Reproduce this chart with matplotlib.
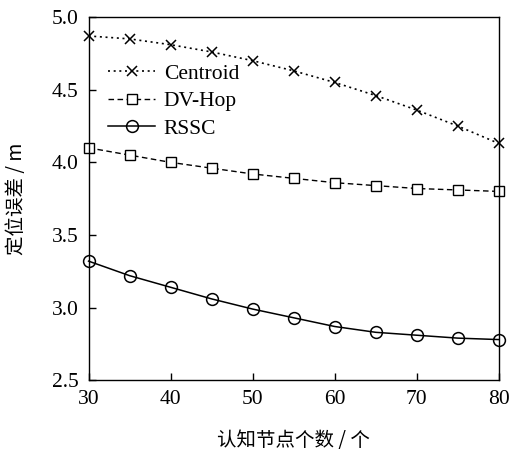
import matplotlib
matplotlib.use("Agg")
import matplotlib.pyplot as plt

x = [30, 35, 40, 45, 50, 55, 60, 65, 70, 75, 80]
centroid = [4.87, 4.85, 4.81, 4.76, 4.70, 4.63, 4.55, 4.46, 4.36, 4.25, 4.13]
dvhop = [4.10, 4.05, 4.00, 3.96, 3.92, 3.89, 3.86, 3.84, 3.82, 3.81, 3.80]
rssc = [3.32, 3.22, 3.14, 3.06, 2.99, 2.93, 2.87, 2.83, 2.81, 2.79, 2.78]
xticks = [30, 40, 50, 60, 70, 80]
yticks = [2.5, 3.0, 3.5, 4.0, 4.5, 5.0]

plt.rcParams['font.family'] = ['Liberation Serif', 'Noto Sans CJK SC']

fig = plt.figure(figsize=(5.09, 4.5), dpi=100)
ax = fig.add_axes([0.174, 0.155, 0.806, 0.807])

ax.plot(x, centroid, color='black', linestyle=(0, (1.2, 2.2)), linewidth=1.2,
        marker='x', markersize=7, markeredgewidth=1.1, label='Centroid', clip_on=False)
ax.plot(x, dvhop, color='black', linestyle=(0, (4, 2.5)), linewidth=1.0,
        marker='s', markersize=7, markerfacecolor='white', markeredgewidth=1.0,
        label='DV-Hop', clip_on=False)
ax.plot(x, rssc, color='black', linestyle='-', linewidth=1.1,
        marker='o', markersize=8.5, markerfacecolor='none', markeredgewidth=1.1,
        label='RSSC', clip_on=False)

ax.set_xlim(30, 80)
ax.set_ylim(2.5, 5.0)
ax.set_xticks(xticks)
ax.set_yticks(yticks)
ax.set_yticklabels([f"{v:.1f}" for v in yticks])
ax.tick_params(direction='in', labelsize=15.5, length=5, width=1, pad=7)
for s in ax.spines.values():
    s.set_linewidth(1.0)

ax.set_xlabel('认知节点个数 / 个', fontsize=14, family=['Noto Sans CJK SC'], labelpad=15)
ax.set_ylabel('定位误差 / m', fontsize=14, family=['Noto Sans CJK SC'], labelpad=18)

leg = ax.legend(loc='upper left', bbox_to_anchor=(0.0, 0.925), frameon=False,
                fontsize=15.5, handlelength=2.2, handletextpad=0.4, labelspacing=0.35,
                borderaxespad=0.5)

fig.savefig('out.png', dpi=100)
